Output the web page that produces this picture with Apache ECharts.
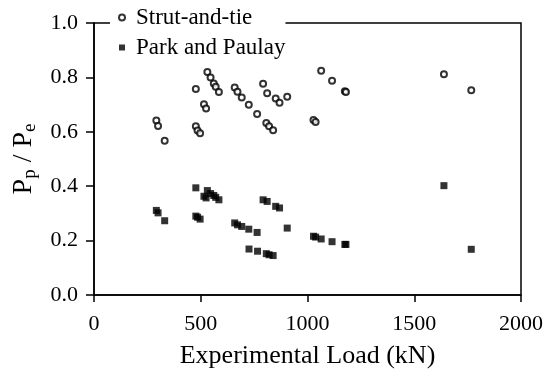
<!DOCTYPE html>
<html>
<head>
<meta charset="utf-8">
<script src="https://cdn.jsdelivr.net/npm/echarts@6/dist/echarts.min.js"></script>
<style>
html, body { margin: 0; padding: 0; background: #fff; }
#chart { width: 549px; height: 381px; }
</style>
</head>
<body>
<div id="chart"></div>
<script>
// experimental load of each specimen (kN), strut-and-tie points
var loads = [292, 300, 331, 477, 477, 485, 497, 515, 525, 531, 546, 561, 570, 585,
	659, 672, 692, 725, 764, 792, 811, 807, 820, 839, 851, 869, 905,
	1028, 1038, 1064, 1115, 1175, 1180, 1639, 1767];
// Pp / Pe, strut-and-tie
var strutTie = [0.642, 0.621, 0.567, 0.757, 0.620, 0.605, 0.595, 0.701, 0.686, 0.820, 0.800, 0.778, 0.766, 0.746,
	0.763, 0.747, 0.726, 0.699, 0.665, 0.777, 0.742, 0.632, 0.620, 0.606, 0.722, 0.707, 0.729,
	0.643, 0.636, 0.824, 0.788, 0.749, 0.746, 0.812, 0.753];
// load (kN) and Pp / Pe, Park and Paulay
var parkLoads = [292, 300, 331, 477, 477, 485, 497, 515, 525, 531, 546, 561, 570, 585,
	659, 672, 692, 725, 764, 792, 811, 726, 766, 807, 820, 839, 851, 869, 905,
	1028, 1038, 1064, 1115, 1175, 1180, 1639, 1767];
var parkPaulay = [0.311, 0.302, 0.273, 0.394, 0.290, 0.286, 0.279, 0.363, 0.357, 0.384, 0.373, 0.366, 0.359, 0.350,
	0.265, 0.258, 0.252, 0.242, 0.230, 0.350, 0.344, 0.169, 0.161, 0.152, 0.148, 0.145, 0.326, 0.320, 0.246,
	0.216, 0.213, 0.206, 0.196, 0.186, 0.186, 0.402, 0.168];
var xTicks = [0, 500, 1000, 1500, 2000];

var font = "'Liberation Serif', 'Times New Roman', serif";

function pairs(xs, ys) {
	var out = [];
	for (var i = 0; i < ys.length; i++) {
		out.push([xs[i], ys[i]]);
	}
	return out;
}

var myChart = echarts.init(document.getElementById('chart'), null, { renderer: 'canvas' });

var option = {
	animation: false,
	backgroundColor: '#fff',
	textStyle: { fontFamily: font, color: '#000' },
	grid: {
		left: 94, top: 23, width: 427, height: 272,
		show: true, borderColor: '#000', borderWidth: 1.5, backgroundColor: 'transparent'
	},
	legend: {
		orient: 'vertical',
		left: 110, top: 4,
		padding: [2, 0, 2, 8],
		backgroundColor: '#fff',
		itemWidth: 6, itemHeight: 6, itemGap: 7,
		textStyle: { fontFamily: font, fontSize: 23, lineHeight: 23, color: '#000', padding: [0, 0, 0, 6] },
		data: ['Strut-and-tie', 'Park and Paulay']
	},
	xAxis: {
		type: 'value', min: 0, max: 2000, interval: 500,
		name: 'Experimental Load (kN)', nameLocation: 'middle', nameGap: 48,
		nameTextStyle: { fontFamily: font, fontSize: 26, color: '#000' },
		axisLine: { lineStyle: { color: '#000', width: 1.5 } },
		axisTick: { length: 7, lineStyle: { color: '#000', width: 1.5 } },
		axisLabel: { fontFamily: font, fontSize: 22, color: '#000', margin: 18,
			formatter: function(v) { return xTicks.indexOf(v) >= 0 ? String(v) : ''; } },
		splitLine: { show: false }
	},
	yAxis: {
		type: 'value', min: 0, max: 1, interval: 0.2,
		name: '{a|P}{s|p}{a| / P}{s|e}', nameLocation: 'middle', nameGap: 54, nameRotate: 90,
		nameTextStyle: {
			rich: {
				a: { fontFamily: font, fontSize: 28, color: '#000', lineHeight: 32 },
				s: { fontFamily: font, fontSize: 19, color: '#000', lineHeight: 19, verticalAlign: 'bottom' }
			}
		},
		axisLine: { lineStyle: { color: '#000', width: 1.5 } },
		axisTick: { length: 8, lineStyle: { color: '#000', width: 1.5 } },
		axisLabel: { fontFamily: font, fontSize: 22, color: '#000', margin: 16,
			formatter: function(v) { return v.toFixed(1); } },
		splitLine: { show: false }
	},
	series: [
		{
			name: 'Strut-and-tie', type: 'scatter', symbol: 'emptyCircle', symbolSize: 6,
			itemStyle: { color: '#000', borderColor: '#000', borderWidth: 1 },
			data: pairs(loads, strutTie)
		},
		{
			name: 'Park and Paulay', type: 'scatter', symbol: 'rect', symbolSize: 7,
			itemStyle: { color: '#000' },
			data: pairs(parkLoads, parkPaulay)
		}
	]
};

myChart.setOption(option);
</script>
</body>
</html>
